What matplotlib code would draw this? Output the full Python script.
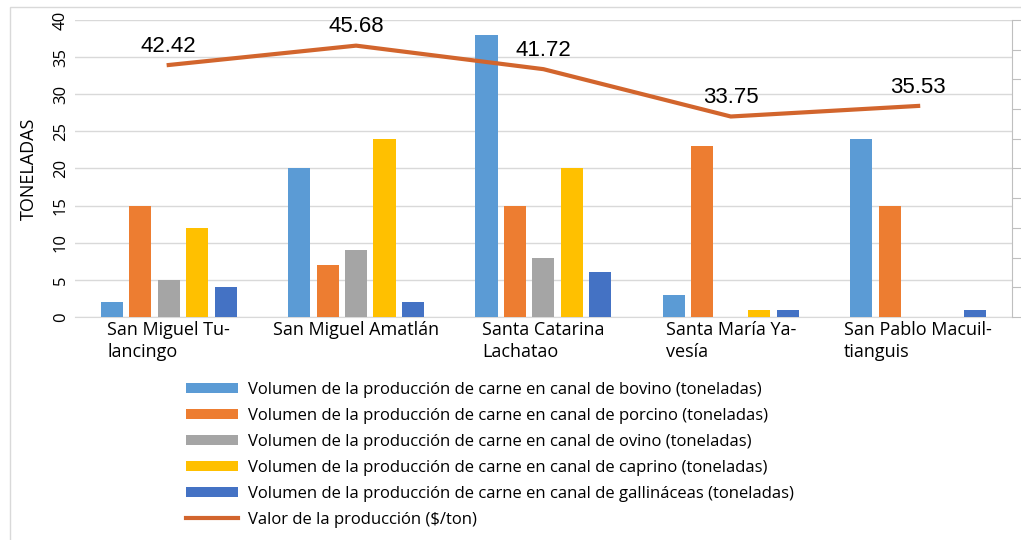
import numpy as np
import matplotlib.pyplot as plt
from matplotlib.patches import Rectangle
from matplotlib.transforms import blended_transform_factory

plt.rcParams['font.family'] = ['Open Sans', 'DejaVu Sans']

municipios = ['San Miguel Tu-\nlancingo', 'San Miguel Amatlán', 'Santa Catarina\nLachatao',
              'Santa María Ya-\nvesía', 'San Pablo Macuil-\ntianguis']
bovino = [2, 20, 38, 3, 24]
porcino = [15, 7, 15, 23, 15]
ovino = [5, 9, 8, 0, 0]
caprino = [12, 24, 20, 1, 0]
gallinaceas = [4, 2, 6, 1, 1]
valor = [42.42, 45.68, 41.72, 33.75, 35.53]
yticks = list(range(0, 41, 5))

series = [
    ('Volumen de la producción de carne en canal de bovino (toneladas)', bovino, '#5B9BD5'),
    ('Volumen de la producción de carne en canal de porcino (toneladas)', porcino, '#ED7D31'),
    ('Volumen de la producción de carne en canal de ovino (toneladas)', ovino, '#A5A5A5'),
    ('Volumen de la producción de carne en canal de caprino (toneladas)', caprino, '#FFC000'),
    ('Volumen de la producción de carne en canal de gallináceas (toneladas)', gallinaceas, '#4472C4'),
]
line_color = '#D2652D'

fig = plt.figure(figsize=(10.21, 5.40), dpi=100)
ax = fig.add_axes([0.0735, 0.413, 0.9175, 0.55])
x = np.arange(len(municipios))
pitch = 0.152
width = 0.118
handles = []
for i, (lab, vals, col) in enumerate(series):
    h = ax.bar(x + (i - 2) * pitch, vals, width, color=col, label=lab, zorder=3)
    handles.append(h)

ax.set_xlim(-0.5, 4.5)
ax.set_ylim(0, 40)
ax.set_yticks(yticks)
ax.set_yticklabels([])
ax.tick_params(axis='y', length=0)
# rotated tick labels, as in the original
trans = blended_transform_factory(fig.transFigure, ax.transData)
for t in yticks:
    ax.text(61 / 1021, t, str(t), transform=trans, rotation=90,
            ha='center', va='center', fontsize=12, clip_on=False)
ax.set_xticks(x)
ax.set_xticklabels(municipios, fontsize=13, multialignment='left', linespacing=1.25)
ax.tick_params(axis='x', length=0, pad=3)
ax.grid(axis='y', color='#D9D9D9', linewidth=1, zorder=0)
ax.set_ylabel('TONELADAS', fontsize=13)
ax.yaxis.set_label_coords(-0.040, 0.5)
for s in ['top', 'left', 'right']:
    ax.spines[s].set_visible(False)
ax.spines['bottom'].set_color('#D9D9D9')

ax2 = ax.twinx()
ax2.set_ylim(0, 50)
ax2.set_yticks(range(0, 51, 5))
ax2.set_yticklabels([])
ax2.tick_params(axis='y', length=8, color='#BFBFBF', direction='out')
for s in ['top', 'left', 'bottom']:
    ax2.spines[s].set_visible(False)
ax2.spines['right'].set_color('#BFBFBF')
ln, = ax2.plot(x, valor, color=line_color, linewidth=3, label='Valor de la producción ($/ton)', zorder=4)
handles.append(ln)
for xi, v in zip(x, valor):
    ax2.annotate(f'{v:.2f}', (xi, v), xytext=(0, 6), textcoords='offset points',
                 ha='center', va='bottom', fontsize=16, family='Liberation Sans')

fig.legend(handles=handles, loc='upper left', bbox_to_anchor=(0.176, 0.305),
           frameon=False, fontsize=12, handlelength=3.1, handleheight=0.6,
           labelspacing=0.6, handletextpad=0.6, borderaxespad=0)

fig.patches.append(Rectangle((10 / 1021, -0.1), 1.1, 533 / 540 + 0.1, transform=fig.transFigure,
                             fill=False, edgecolor='#D9D9D9', linewidth=1))

fig.savefig('out.png', dpi=100)
